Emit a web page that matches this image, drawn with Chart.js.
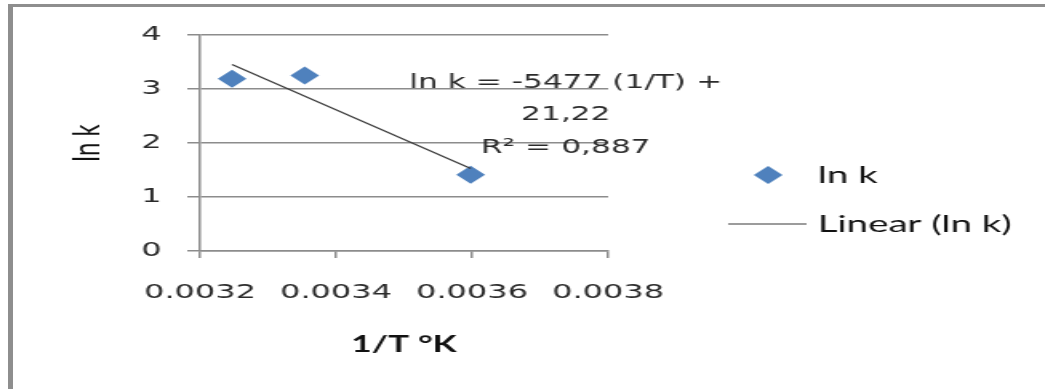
<!DOCTYPE html>
<html>
<head>
<meta charset="utf-8">
<script src="https://cdn.jsdelivr.net/npm/chart.js@4/dist/chart.umd.min.js"></script>
<style>
  html, body { margin: 0; padding: 0; background: #fff; overflow: hidden; }
  #frame { position: absolute; left: 8px; top: 4px; width: 1040px; height: 390px;
           border-left: 5px solid #8e8e8e; border-top: 3px solid #8e8e8e; box-sizing: border-box; }
  #wrap { position: absolute; left: 0; top: 0; width: 653px; height: 389px;
          transform: scaleX(1.60031); transform-origin: 0 0; }
</style>
</head>
<body>
<div id="frame"></div>
<div id="wrap"><canvas id="c"></canvas></div>
<script>
// ---- data ----
const invT = [0.003247, 0.003354, 0.003598];   // 1/T (1/K)
const lnK  = [3.19, 3.25, 1.41];               // ln k
const xTicks = [0.0032, 0.0034, 0.0036, 0.0038];
const yTicks = [0, 1, 2, 3, 4];
const eqLines = ['ln k = -5477 (1/T) +', '21,22', 'R\u00B2 = 0,887'];
const seriesLabel = 'ln k';
const trendLabel = 'Linear (ln k)';

// least-squares trend line (as the spreadsheet does)
const n = invT.length;
const mx = invT.reduce((a, b) => a + b, 0) / n;
const my = lnK.reduce((a, b) => a + b, 0) / n;
let sxy = 0, sxx = 0;
for (let i = 0; i < n; i++) { sxy += (invT[i] - mx) * (lnK[i] - my); sxx += (invT[i] - mx) ** 2; }
const slope = sxy / sxx, intercept = my - slope * mx;
const xMin = Math.min(...invT), xMax = Math.max(...invT);
const trendPts = [{x: xMin, y: slope * xMin + intercept}, {x: xMax, y: slope * xMax + intercept}];

const pts = invT.map((x, i) => ({x, y: lnK[i]}));
const BLUE = '#4F81BD', GRID = '#8c8c8c', TXT = '#2b2b2b';

const overlay = {
  id: 'overlay',
  afterDraw(chart) {
    const ctx = chart.ctx;
    ctx.save();
    // equation label
    ctx.font = '19.5px "DejaVu Sans"';
    ctx.fillStyle = TXT;
    ctx.textAlign = 'center';
    ctx.textBaseline = 'middle';
    const eqX = 353.5, eqY = [83, 115, 148];
    eqLines.forEach((t, i) => ctx.fillText(t, eqX, eqY[i]));
    // legend
    const ds0 = chart.data.datasets[0], ds1 = chart.data.datasets[1];
    ctx.fillStyle = ds0.backgroundColor;
    const cx = 480, cy = 175, r = 9;
    ctx.beginPath();
    ctx.moveTo(cx, cy - r); ctx.lineTo(cx + r, cy); ctx.lineTo(cx, cy + r); ctx.lineTo(cx - r, cy); ctx.closePath();
    ctx.fill();
    ctx.strokeStyle = ds1.borderColor;
    ctx.lineWidth = ds1.borderWidth;
    ctx.beginPath(); ctx.moveTo(455, 224); ctx.lineTo(504, 224); ctx.stroke();
    ctx.font = '24px Lato';
    ctx.fillStyle = '#111';
    ctx.textAlign = 'left';
    ctx.fillText(ds0.label, 511, 175);
    ctx.fillText(ds1.label, 511, 224);
    ctx.restore();
  }
};

new Chart(document.getElementById('c'), {
  type: 'scatter',
  data: {
    datasets: [
      { label: seriesLabel, data: pts, pointStyle: 'rectRot', pointRadius: 9,
        backgroundColor: BLUE, borderColor: BLUE, borderWidth: 0, order: 1 },
      { type: 'line', label: trendLabel, data: trendPts, showLine: true, pointRadius: 0,
        borderColor: '#3a3a3a', borderWidth: 1.2, fill: false, order: 0 }
    ]
  },
  options: {
    responsive: true, maintainAspectRatio: false, animation: false,
    layout: { padding: { top: 35, right: 273, left: 0, bottom: 0 } },
    plugins: { legend: { display: false }, tooltip: { enabled: false } },
    scales: {
      x: {
        type: 'linear', min: xTicks[0], max: xTicks[xTicks.length - 1],
        afterBuildTicks: s => { s.ticks = xTicks.map(v => ({value: v})); },
        ticks: { font: { family: 'DejaVu Sans', size: 20 }, color: TXT, padding: 23,
                 callback: v => Number(v).toFixed(4) },
        grid: { drawOnChartArea: false, drawTicks: true, tickLength: 7, color: GRID, lineWidth: 1.5 },
        border: { color: GRID, width: 1.5 },
        title: { display: true, text: '1/T \u00B0K', font: { family: 'Lato', size: 22, weight: 'bold' },
                 color: '#111', padding: { top: 0, bottom: 30.8 } },
        afterFit: s => { s.height = 138; }
      },
      y: {
        min: yTicks[0], max: yTicks[yTicks.length - 1],
        afterBuildTicks: s => { s.ticks = yTicks.map(v => ({value: v})); },
        ticks: { font: { family: 'DejaVu Sans', size: 20 }, color: TXT, padding: 16 },
        grid: { color: GRID, lineWidth: 1.5, tickLength: 8, drawTicks: true },
        border: { color: GRID, width: 1.5 },
        title: { display: true, text: 'ln k', font: { family: 'Lato', size: 24 },
                 color: '#111', padding: { top: 39.6, bottom: 0 } },
        afterFit: s => { s.width = 125; }
      }
    }
  },
  plugins: [overlay]
});
</script>
</body>
</html>
